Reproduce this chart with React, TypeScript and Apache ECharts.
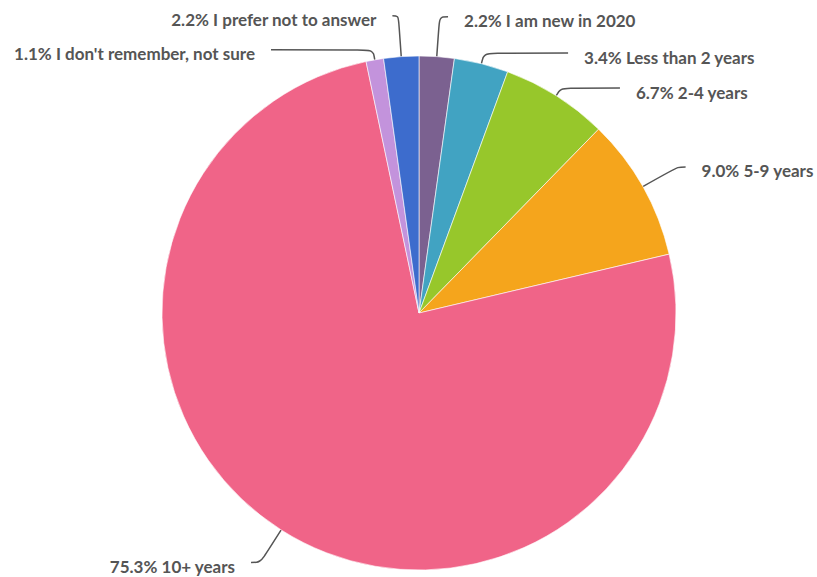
import React, { useEffect, useRef } from "react";
import * as echarts from "echarts";

const categories = [
  "I am new in 2020",
  "Less than 2 years",
  "2-4 years",
  "5-9 years",
  "10+ years",
  "I don't remember, not sure",
  "I prefer not to answer",
];
const percentages = [2.2, 3.4, 6.7, 9.0, 75.3, 1.1, 2.2];
const sliceColors = ["#7b6190", "#41a3c2", "#97c72b", "#f5a51c", "#f06488", "#c393dc", "#3d6ccd"];
// label line geometry (radial length, horizontal length) per slice
const lineLength = [40, 11, 9, 40, 38.5, 10.3, 41];
const lineLength2 = [8.5, 84, 59, 8, 9.5, 102, 6];

export default function App() {
  const ref = useRef<HTMLDivElement>(null);
  useEffect(() => {
    if (!ref.current) return;
    const chart = echarts.init(ref.current, undefined, { renderer: "svg" });
    chart.setOption({
      animation: false,
      backgroundColor: "#ffffff",
      series: [
        {
          type: "pie",
          left: 0,
          top: 0,
          width: 900,
          height: 577,
          center: [419, 313],
          radius: [0, 257],
          startAngle: 90,
          clockwise: true,
          avoidLabelOverlap: false,
          emphasis: { disabled: true },
          itemStyle: { borderColor: "#ffffff", borderWidth: 0.6 },
          label: {
            show: true,
            position: "outer",
            alignTo: "none",
            distanceToLabelLine: 16,
            fontFamily: "Lato",
            fontWeight: "bold",
            fontSize: 17,
            color: "#555555",
            formatter: (p: any) => `{s| }\n{t|${Number(p.value).toFixed(1)}% ${p.name}}`,
            rich: {
              s: { fontSize: 1, lineHeight: 8 },
              t: {
                fontFamily: "Lato",
                fontWeight: "bold",
                fontSize: 17,
                lineHeight: 20,
                color: "#555555",
              },
            },
          },
          labelLine: {
            show: true,
            smooth: 0.35,
            lineStyle: { color: "#555555", width: 1.5 },
          },
          data: categories.map((name, i) => ({
            name,
            value: percentages[i],
            itemStyle: { color: sliceColors[i] },
            labelLine: { length: lineLength[i], length2: lineLength2[i] },
          })),
        },
      ],
    });
    return () => chart.dispose();
  }, []);
  return (
    <div
      ref={ref}
      style={{ position: "absolute", left: 0, top: 0, width: 817, height: 577 }}
    />
  );
}
